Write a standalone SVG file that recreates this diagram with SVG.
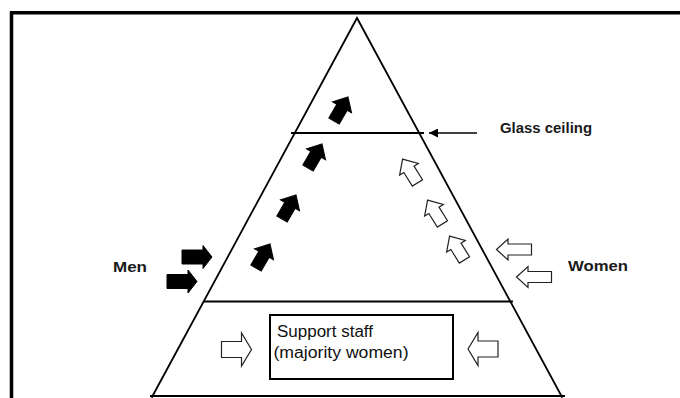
<svg xmlns="http://www.w3.org/2000/svg" width="680" height="398" viewBox="0 0 680 398">
  <style>
    .frame { fill: none; stroke: #000; stroke-width: 3.5; }
    .edge { fill: none; stroke: #000; stroke-width: 1.8; stroke-linecap: round; }
    .tier { fill: none; stroke: #000; stroke-width: 2.2; }
    .solid { fill: #000; stroke: #000; stroke-width: 1; stroke-linejoin: miter; }
    .hollow { fill: #fff; stroke: #222; stroke-width: 1.2; stroke-linejoin: miter; }
    .label { font-family: "Liberation Sans", Arial, sans-serif; font-weight: bold; font-size: 15px; fill: #1a1a1a; }
    .box-text { font-family: "Liberation Sans", Arial, sans-serif; font-size: 16px; fill: #111; }
  </style>
  <defs>
    <!-- block arrow pointing up, centred on the origin -->
    <path id="up" d="M0,-14 L11,-2 L6,-2 L6,14 L-6,14 L-6,-2 L-11,-2 Z"/>
    <!-- horizontal block arrows -->
    <path id="right-men" d="M15,0 L6,-11.5 L6,-7 L-15,-7 L-15,7 L6,7 L6,11.5 Z"/>
    <path id="left-women" d="M-17.5,0 L-6,-10.5 L-6,-5.5 L17.5,-5.5 L17.5,5.5 L-6,5.5 L-6,10.5 Z"/>
    <path id="right-base" d="M15,0 L5,-16.5 L5,-8 L-15,-8 L-15,8 L5,8 L5,16.5 Z"/>
    <marker id="tip" viewBox="0 0 10 10" refX="10" refY="5" markerWidth="9" markerHeight="9" markerUnits="userSpaceOnUse" orient="auto">
      <path d="M0,0 L10,5 L0,10 Z" fill="#000"/>
    </marker>
  </defs>

  <rect width="680" height="398" fill="#fff"/>
  <!-- outer frame (top and left edges) -->
  <path class="frame" d="M11.5,398 V12.7 H680"/>

  <!-- pyramid -->
  <g id="pyramid">
    <path class="edge" d="M152,397 L357,18 L562,397"/>
    <line class="tier" x1="291" y1="133" x2="424" y2="133"/>
    <line class="tier" x1="204" y1="301.5" x2="513" y2="301.5"/>
    <line class="tier" x1="150" y1="396" x2="565" y2="396"/>
  </g>

  <!-- support staff box -->
  <g id="support-staff">
    <rect x="270" y="315" width="183" height="64" fill="#fff" stroke="#000" stroke-width="2"/>
    <text class="box-text" x="277" y="337" textLength="96" lengthAdjust="spacingAndGlyphs">Support staff</text>
    <text class="box-text" x="273.5" y="358" textLength="135" lengthAdjust="spacingAndGlyphs">(majority women)</text>
  </g>

  <!-- labels -->
  <g id="glass-ceiling">
    <text class="label" x="500" y="133" textLength="92" lengthAdjust="spacingAndGlyphs">Glass ceiling</text>
  </g>
  <g id="men">
    <text class="label" x="113" y="272" textLength="34" lengthAdjust="spacingAndGlyphs">Men</text>
  </g>
  <g id="women">
    <text class="label" x="568" y="271" textLength="60" lengthAdjust="spacingAndGlyphs">Women</text>
  </g>

  <!-- arrows -->
  <g id="connectors">
    <line x1="477" y1="133" x2="429" y2="133" stroke="#000" stroke-width="1.3" marker-end="url(#tip)"/>

    <!-- men entering and rising -->
    <use href="#right-men" class="solid" transform="translate(197,257)"/>
    <use href="#right-men" class="solid" transform="translate(182,281.5)"/>
    <use href="#up" class="solid" transform="translate(263,256) rotate(30)"/>
    <use href="#up" class="solid" transform="translate(289,207) rotate(30)"/>
    <use href="#up" class="solid" transform="translate(315,156) rotate(30)"/>
    <use href="#up" class="solid" transform="translate(341,109) rotate(30)"/>

    <!-- women entering and rising -->
    <use href="#left-women" class="hollow" transform="translate(514,249.5)"/>
    <use href="#left-women" class="hollow" transform="translate(534,277)"/>
    <use href="#up" class="hollow" transform="translate(457,248) rotate(-32)"/>
    <use href="#up" class="hollow" transform="translate(435,212) rotate(-32)"/>
    <use href="#up" class="hollow" transform="translate(410,171) rotate(-32)"/>

    <!-- support staff level -->
    <use href="#right-base" class="hollow" transform="translate(236.5,349.5)"/>
    <use href="#right-base" class="hollow" transform="translate(483,349) scale(-1,1)"/>
  </g>
</svg>
